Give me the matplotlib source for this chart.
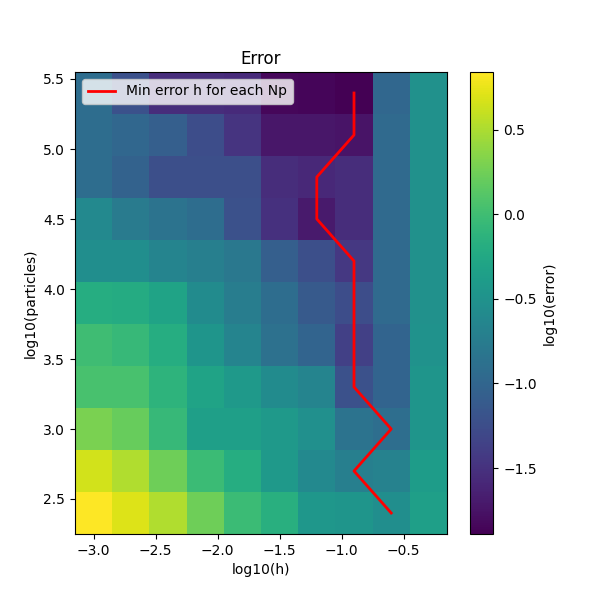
import numpy as np
import matplotlib
matplotlib.use("Agg")
import matplotlib.pyplot as plt

log_h = [-3.0, -2.7, -2.4, -2.1, -1.8, -1.5, -1.2, -0.9, -0.6, -0.3]
log_np = [2.4, 2.7, 3.0, 3.3, 3.6, 3.9, 4.2, 4.5, 4.8, 5.1, 5.4]

row_24 = [0.84, 0.70, 0.51, 0.24, -0.03, -0.17, -0.44, -0.47, -0.55, -0.36]
row_27 = [0.65, 0.51, 0.24, -0.03, -0.20, -0.42, -0.61, -0.72, -0.69, -0.39]
row_30 = [0.29, 0.21, -0.06, -0.36, -0.36, -0.42, -0.53, -0.85, -0.91, -0.47]
row_33 = [0.05, 0.05, -0.12, -0.31, -0.42, -0.58, -0.66, -1.21, -1.02, -0.47]
row_36 = [-0.01, -0.06, -0.20, -0.47, -0.66, -0.88, -1.02, -1.37, -1.02, -0.50]
row_39 = [-0.20, -0.22, -0.31, -0.58, -0.74, -0.93, -1.13, -1.26, -0.96, -0.52]
row_42 = [-0.55, -0.55, -0.66, -0.72, -0.80, -1.07, -1.23, -1.45, -0.96, -0.52]
row_45 = [-0.61, -0.77, -0.85, -0.93, -1.21, -1.51, -1.70, -1.54, -0.96, -0.52]
row_48 = [-0.93, -1.04, -1.23, -1.23, -1.23, -1.54, -1.59, -1.54, -0.96, -0.52]
row_51 = [-0.93, -0.99, -1.07, -1.26, -1.48, -1.73, -1.73, -1.75, -0.96, -0.52]
row_54 = [-0.93, -1.21, -1.54, -1.54, -1.56, -1.84, -1.85, -1.89, -0.99, -0.52]

best_log_h = [-0.6, -0.9, -0.6, -0.9, -0.9, -0.9, -0.9, -1.2, -1.2, -0.9, -0.9]

Z = np.array([row_24, row_27, row_30, row_33, row_36, row_39,
              row_42, row_45, row_48, row_51, row_54])

fig, ax = plt.subplots(figsize=(6, 6), dpi=100)
mesh = ax.pcolormesh(log_h, log_np, Z, shading='nearest', cmap='viridis')
ax.plot(best_log_h, log_np, color='red', linewidth=2,
        label='Min error h for each Np')
cb = fig.colorbar(mesh, ax=ax)
cb.set_label('log10(error)')
ax.set_title('Error')
ax.set_xlabel('log10(h)')
ax.set_ylabel('log10(particles)')
ax.legend(loc='upper left')
fig.savefig('out.png')
